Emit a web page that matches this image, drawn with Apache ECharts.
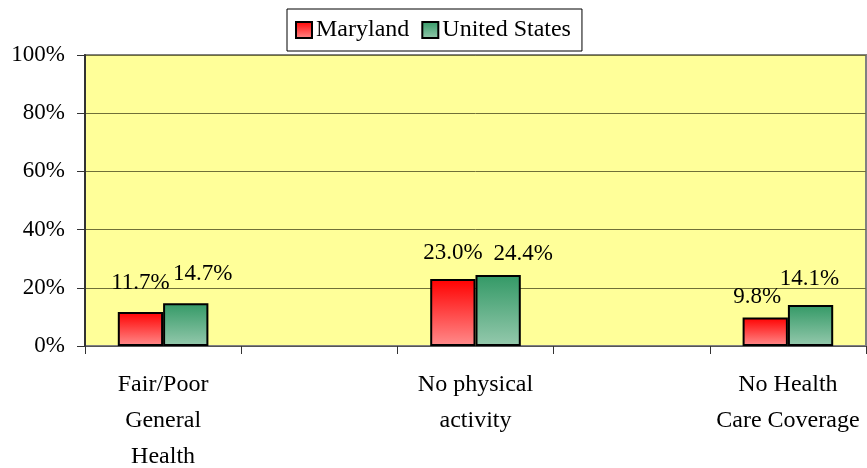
<!DOCTYPE html>
<html>
<head>
    <meta charset="utf-8">
    <title>Maryland vs United States</title>
    <script src="https://cdn.jsdelivr.net/npm/echarts@6.0.0/dist/echarts.min.js"></script>
    <style>
        html, body { margin: 0; padding: 0; background: #fff; }
        #main { width: 867px; height: 468px; }
    </style>
</head>
<body>
<div id="main"></div>
<script>
// categories (2nd and 4th are empty slots as in the original sheet)
const categories = ['Fair/Poor\nGeneral\nHealth', '', 'No physical\nactivity', '', 'No Health\nCare Coverage'];
const marylandValues = [11.7, null, 23.0, null, 9.8];
const usValues = [14.7, null, 24.4, null, 14.1];
const yTicks = [0, 20, 40, 60, 80, 100];

const FONT = "'Liberation Serif', 'Times New Roman', serif";

// label nudges, like Excel moved them to avoid overlap
const mdOffsets = [[0, -12], null, [0, -10], null, [-8, -4]];
const usOffsets = [[17, -13], null, [25, -5], null, [-1, -10]];

function toData(values, offsets) {
    return values.map((v, i) => v === null ? null : {
        value: v,
        label: { offset: offsets[i] }
    });
}

const redGrad = new echarts.graphic.LinearGradient(0, 0, 0, 1, [
    { offset: 0, color: '#ff0000' },
    { offset: 1, color: '#ff8c8c' }
]);
const greenGrad = new echarts.graphic.LinearGradient(0, 0, 0, 1, [
    { offset: 0, color: '#339966' },
    { offset: 1, color: '#95c9ad' }
]);

const chart = echarts.init(document.getElementById('main'));

const option = {
    animation: false,
    textStyle: { fontFamily: FONT, color: '#000' },
    legend: {
        top: 9,
        left: 287,
        padding: [9, 11, 9, 8],
        itemWidth: 16,
        itemHeight: 16,
        itemGap: 12,
        icon: 'rect',
        backgroundColor: '#fff',
        borderColor: '#000',
        borderWidth: 1,
        textStyle: { fontFamily: FONT, fontSize: 24, color: '#000', padding: [0, 0, 0, -1] },
        data: ['Maryland', 'United States']
    },
    grid: {
        left: 85,
        right: 1,
        top: 55,
        bottom: 122,
        outerBoundsMode: 'none',
        containLabel: false,
        show: true,
        backgroundColor: '#ffff99',
        borderColor: '#808080',
        borderWidth: 2
    },
    xAxis: {
        type: 'category',
        data: categories,
        axisLine: { lineStyle: { color: '#555', width: 1 } },
        axisTick: { show: true, length: 8, lineStyle: { color: '#333' } },
        axisLabel: {
            interval: 0,
            margin: 21,
            fontFamily: FONT,
            fontSize: 24,
            color: '#000',
            lineHeight: 36
        }
    },
    yAxis: {
        type: 'value',
        min: 0,
        max: 100,
        interval: 20,
        axisLine: { show: true, lineStyle: { color: '#333', width: 2 } },
        axisTick: { show: true, length: 8, lineStyle: { color: '#333' } },
        axisLabel: {
            margin: 20,
            fontFamily: FONT,
            fontSize: 23,
            color: '#000',
            formatter: v => yTicks.includes(v) ? v + '%' : ''
        },
        splitLine: { show: true, lineStyle: { color: '#707038', width: 1 } }
    },
    series: [
        {
            name: 'Maryland',
            type: 'bar',
            data: toData(marylandValues, mdOffsets),
            barGap: '0%',
            barCategoryGap: '42%',
            itemStyle: { color: redGrad, borderColor: '#000', borderWidth: 2 },
            label: {
                show: true,
                position: 'top',
                fontFamily: FONT,
                fontSize: 23,
                color: '#000',
                formatter: p => p.value.toFixed(1) + '%'
            }
        },
        {
            name: 'United States',
            type: 'bar',
            data: toData(usValues, usOffsets),
            barGap: '0%',
            barCategoryGap: '42%',
            itemStyle: { color: greenGrad, borderColor: '#000', borderWidth: 2 },
            label: {
                show: true,
                position: 'top',
                fontFamily: FONT,
                fontSize: 23,
                color: '#000',
                formatter: p => p.value.toFixed(1) + '%'
            }
        }
    ]
};

chart.setOption(option);
</script>
</body>
</html>
